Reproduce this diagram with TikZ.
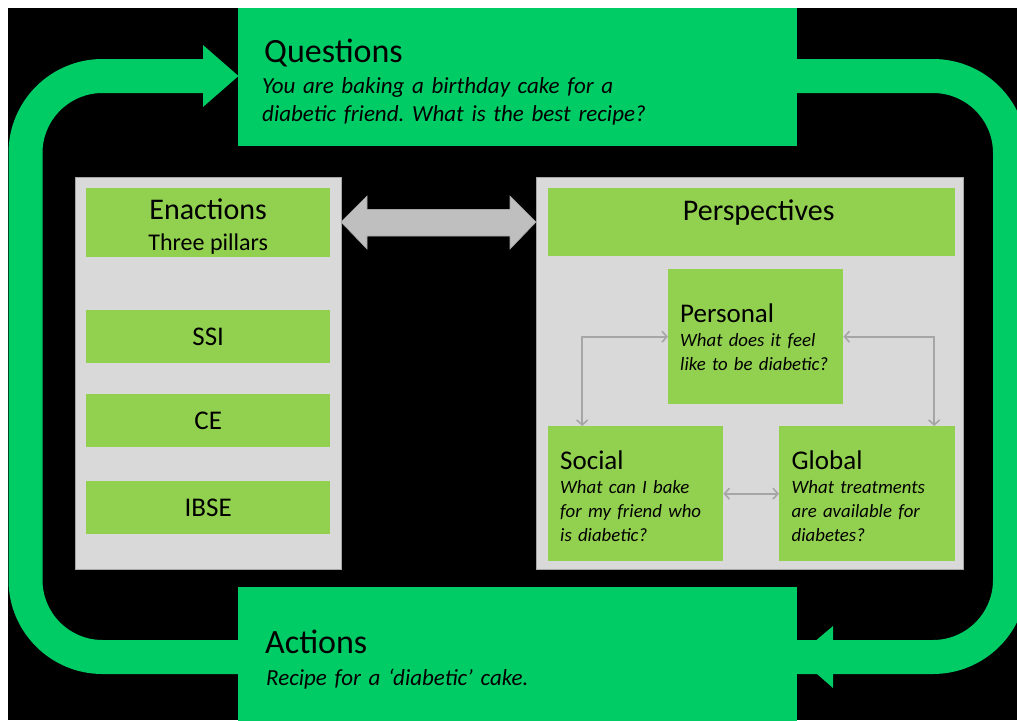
\documentclass[tikz,border=0pt]{standalone}
\usepackage{fontspec}
\setmainfont{Carlito}
\usepackage{xcolor}
\usetikzlibrary{arrows.meta}
\definecolor{loopgreen}{RGB}{0,204,102}
\definecolor{leafgreen}{RGB}{146,208,80}
\definecolor{panelgray}{RGB}{217,217,217}
\definecolor{rimgray}{RGB}{166,166,166}
\definecolor{shaftgray}{RGB}{191,191,191}
\hyphenpenalty=10000
\frenchspacing

\begin{document}
\begin{tikzpicture}[x=1pt,y=1pt,yscale=-1,xscale=1,
  loopbox/.style={fill=loopgreen, anchor=north west, inner xsep=24pt, inner ysep=0pt,
    text width=511pt, align=left, font=\fontsize{23}{28}\selectfont\itshape},
  panel/.style={fill=panelgray, draw=rimgray, line width=1pt, anchor=north west, inner sep=0pt,
    minimum width=#1, minimum height=392pt},
  leaf/.style={fill=leafgreen, anchor=north west, inner sep=0pt, align=center,
    minimum width=#1},
  persbox/.style={fill=leafgreen, anchor=north west, inner xsep=12pt, inner ysep=0pt,
    text width=151pt, minimum height=135pt, align=left,
    font=\fontsize{18.8}{24}\selectfont\itshape},
  linkarrow/.style={draw=rimgray, line width=1.6pt, {Straight Barb[length=5pt,width=11pt]}-{Straight Barb[length=5pt,width=11pt]}}
]
\useasboundingbox (0,0) rectangle (1017,720);
\clip (0,0) rectangle (1017,720);

% background
\fill [black] (8,8) rectangle (1017,720);

% green loop
\draw [loopgreen, line width=34pt, rounded corners=77pt] (203,76) -- (25.5,76) -- (25.5,657) -- (1010,657) -- (1010,76) -- (790,76) ;
\fill [loopgreen] (203,45) -- (238.5,76) -- (203,107) -- cycle ;
\fill [loopgreen] (833,626) -- (797,656.5) -- (833,688) -- cycle ;

% Questions and Actions
\node [loopbox, minimum height=138pt] (questions) at (238,8) {{\fontsize{34}{34}\selectfont\upshape\rule{0pt}{33pt}\kern2pt Questions}\\[3pt]You are baking a birthday cake for a\\diabetic friend. What is the best recipe?};
\node [loopbox, minimum height=140pt] (actions) at (238,587) {{\fontsize{34}{34}\selectfont\upshape\rule{0pt}{29pt}\kern3pt Actions}\\[4pt]\hspace*{4pt}Recipe for a ‘diabetic’ cake.};

% panels
\node [panel=266pt] (enpanel) at (75,177) {};
\node [panel=427pt] (pppanel) at (536,177) {};

% double arrow between panels
\draw [fill=shaftgray, draw=rimgray, line width=0.6pt] (341,222) -- (367,196) -- (367,209.5) -- (510,209.5) -- (510,196) -- (536,222) -- (510,249) -- (510,236) -- (367,236) -- (367,249) -- cycle ;

% Enactions
\node [leaf=244pt, minimum height=69pt, font=\fontsize{24}{31}\selectfont] (enactions) at (86,188) {{\fontsize{30}{31}\selectfont\rule{0pt}{29pt}Enactions}\\Three pillars};
\node [leaf=244pt, minimum height=53pt, font=\fontsize{27}{27}\selectfont] (ssi) at (86,310) {SSI};
\node [leaf=244pt, minimum height=53pt, font=\fontsize{27}{27}\selectfont] (ce) at (86,394) {CE};
\node [leaf=244pt, minimum height=53pt, font=\fontsize{27}{27}\selectfont] (ibse) at (86,481) {IBSE};

% Perspectives
\node [leaf=407pt, minimum height=68pt, font=\fontsize{30}{31}\selectfont] (perspectives) at (548,188) {\kern14pt\rule[-26pt]{0pt}{48pt}Perspectives};
\node [persbox, minimum width=175pt] (personal) at (668,269) {{\fontsize{27}{27}\selectfont\upshape Personal}\\What does it feel\\like to be diabetic?};
\node [persbox, minimum width=175pt] (social) at (548,426) {{\fontsize{27}{27}\selectfont\upshape\rule{0pt}{24pt}Social}\\What can I bake\\for my friend who\\is diabetic?};
\node [persbox, minimum width=176pt] (global) at (779,426) {{\fontsize{27}{27}\selectfont\upshape\rule{0pt}{24pt}Global}\\What treatments\\are available for\\diabetes?};

% links between perspectives
\draw [linkarrow] (personal.west) -| ([xshift=-53.5pt]social.north) ;
\draw [linkarrow] (personal.east) -| ([xshift=67pt]global.north) ;
\draw [linkarrow] (social.east) -- (global.west) ;

\end{tikzpicture}
\end{document}
